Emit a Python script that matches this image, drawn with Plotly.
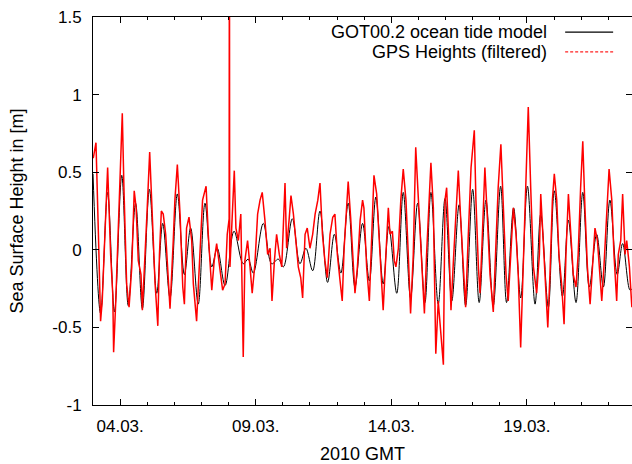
import pandas as pd
import plotly.graph_objects as go

# ---- data (day of March 2010, fractional; height in m) ----
model_day = [3.00, 3.28, 3.54, 3.79, 4.06, 4.30, 4.57, 4.82, 5.08, 5.35, 5.57, 5.84, 6.11, 6.37,
             6.60, 6.88, 7.13, 7.38, 7.58, 7.87, 8.20, 8.54, 8.72, 8.91, 9.28, 9.59, 9.83, 10.02,
             10.35, 10.63, 10.85, 11.10, 11.37, 11.65, 11.90, 12.14, 12.41, 12.66, 12.94, 13.19,
             13.43, 13.70, 13.91, 14.20, 14.44, 14.71, 14.97, 15.24, 15.46, 15.73, 15.98, 16.23,
             16.50, 16.74, 17.00, 17.24, 17.49, 17.76, 18.03, 18.25, 18.51, 18.77, 19.02, 19.30,
             19.51, 19.79, 20.01, 20.31, 20.53, 20.81, 21.06, 21.30, 21.57, 21.82, 22.06, 22.33,
             22.53, 22.80, 22.88]
model_h = [0.49, -0.41, 0.37, -0.40, 0.48, -0.36, 0.30, -0.38, 0.39, -0.28, 0.17, -0.31, 0.36, -0.16,
           0.14, -0.35, 0.30, -0.11, 0.01, -0.23, 0.12, -0.09, -0.06, -0.15, 0.17, -0.09, -0.06, -0.11,
           0.20, -0.09, 0.01, -0.135, 0.25, -0.21, 0.10, -0.15, 0.30, -0.24, 0.17, -0.20,
           0.34, -0.22, 0.15, -0.28, 0.37, -0.31, 0.30, -0.34, 0.37, -0.35, 0.33, -0.33,
           0.29, -0.36, 0.39, -0.34, 0.32, -0.36, 0.41, -0.34, 0.27, -0.31, 0.41, -0.35,
           0.23, -0.37, 0.38, -0.30, 0.19, -0.34, 0.37, -0.24, 0.10, -0.24, 0.32, -0.16,
           0.04, -0.26, -0.25]

gps_day = [3.01, 3.11, 3.20, 3.28, 3.34, 3.44, 3.54, 3.59, 3.65, 3.73, 3.76, 3.84, 3.93, 4.00,
           4.08, 4.14, 4.24, 4.33, 4.43, 4.52, 4.59, 4.67, 4.77, 4.82, 4.92, 5.00, 5.09, 5.16,
           5.29, 5.39, 5.45, 5.52, 5.59, 5.68, 5.78, 5.84, 5.96, 6.02, 6.11, 6.21, 6.31, 6.37,
           6.45, 6.54, 6.64, 6.70, 6.82, 6.92, 7.04, 7.17, 7.25, 7.38, 7.47, 7.56, 7.66, 7.78,
           7.87, 7.95, 8.02, 8.03, 8.04, 8.05, 8.15, 8.21, 8.27, 8.36, 8.45, 8.48, 8.54, 8.60,
           8.70, 8.79, 8.87, 8.97, 9.07, 9.16, 9.24, 9.34, 9.44, 9.53, 9.60, 9.69, 9.77, 9.87,
           9.96, 10.08, 10.14, 10.23, 10.30, 10.39, 10.49, 10.57, 10.66, 10.73, 10.82, 10.90,
           11.00, 11.10, 11.19, 11.29, 11.37, 11.46, 11.55, 11.64, 11.74, 11.84, 11.92, 12.01,
           12.11, 12.19, 12.26, 12.35, 12.41, 12.50, 12.58, 12.66, 12.75, 12.85, 12.94, 12.99,
           13.09, 13.19, 13.28, 13.36, 13.46, 13.58, 13.70, 13.80, 13.89, 13.95, 14.04, 14.11,
           14.17, 14.26, 14.35, 14.44, 14.54, 14.63, 14.71, 14.81, 14.90, 15.00, 15.12, 15.22,
           15.30, 15.40, 15.46, 15.55, 15.64, 15.73, 15.82, 15.92, 15.98, 16.04, 16.12, 16.20,
           16.29, 16.41, 16.47, 16.56, 16.65, 16.74, 16.84, 16.94, 17.06, 17.12, 17.21, 17.27,
           17.35, 17.45, 17.54, 17.64, 17.76, 17.86, 17.94, 18.04, 18.13, 18.23, 18.31, 18.40,
           18.50, 18.60, 18.68, 18.77, 18.87, 18.97, 19.05, 19.14, 19.24, 19.36, 19.46, 19.51,
           19.58, 19.67, 19.77, 19.85, 19.94, 20.01, 20.10, 20.18, 20.28, 20.37, 20.44, 20.53,
           20.61, 20.71, 20.81, 20.89, 20.98, 21.06, 21.14, 21.23, 21.33, 21.43, 21.51, 21.60,
           21.69, 21.76, 21.84, 21.94, 22.03, 22.13, 22.21, 22.31, 22.37, 22.46, 22.53, 22.62,
           22.68, 22.78, 22.87]
gps_h = [0.59, 0.69, 0.10, -0.46, -0.33, 0.10, 0.53, 0.27, -0.03, -0.29, -0.66, -0.33, 0.10, 0.49,
         0.88, 0.40, -0.22, -0.37, -0.11, 0.38, 0.27, -0.07, -0.16, -0.39, -0.07, 0.27, 0.63, 0.32,
         -0.22, -0.49, -0.03, 0.25, 0.23, 0.10, -0.26, -0.38, 0.06, 0.32, 0.55, 0.23, -0.24, -0.35,
         0.14, 0.21, 0.06, -0.22, -0.46, -0.11, 0.32, 0.41, 0.10, -0.26, -0.07, 0.04, -0.09, -0.26,
         -0.22, 0.10, 0.20, 2.50, 0.00, -0.11, 0.23, 0.51, 0.14, 0.06, 0.23, -0.16, -0.69, -0.07,
         0.06, -0.11, -0.28, -0.09, 0.23, 0.32, 0.37, 0.19, -0.03, 0.01, -0.33, -0.07, 0.10, -0.03,
         -0.11, 0.43, 0.01, 0.19, 0.35, 0.23, 0.06, -0.11, -0.18, -0.31, 0.10, 0.14,
         0.01, 0.10, 0.23, 0.32, 0.43, 0.10, -0.07, -0.18, 0.10, 0.21, 0.23, -0.03,
         -0.20, -0.33, 0.01, 0.32, 0.44, 0.21, -0.03, -0.28, -0.11, 0.19, 0.32, 0.27,
         -0.11, -0.33, 0.10, 0.48, 0.36, -0.03, -0.39, -0.03, 0.27, 0.10, 0.12, -0.07,
         -0.11, 0.01, 0.32, 0.52, 0.32, -0.05, -0.41, -0.03, 0.66, 0.32, -0.07, -0.41,
         -0.03, 0.40, 0.56, 0.27, -0.67, -0.33, -0.50, -0.74, 0.32, 0.40, 0.06, -0.39,
         -0.07, 0.36, 0.51, 0.19, -0.11, -0.37, 0.10, 0.53, 0.77, 0.32, -0.11, -0.28,
         0.06, 0.53, 0.21, -0.16, -0.40, 0.01, 0.40, 0.68, 0.32, -0.16, -0.33, -0.03,
         0.27, 0.10, -0.16, -0.63, -0.11, 0.53, 0.92, 0.40, -0.11, -0.28, -0.03, 0.36,
         0.14, -0.11, -0.50, -0.16, 0.32, 0.49, 0.32, -0.03, -0.22, -0.48, -0.03, 0.36,
         0.10, -0.16, -0.24, -0.03, 0.40, 0.70, 0.27, -0.11, -0.35, -0.03, 0.14, 0.06,
         -0.18, -0.33, -0.11, 0.21, 0.52, 0.32, -0.03, -0.33, -0.03, 0.06, 0.36, -0.03,
         0.06, -0.11, -0.37]

y_tickvals = [-1, -0.5, 0, 0.5, 1, 1.5]
y_ticktext = ["-1", "-0.5", "0", "0.5", "1", "1.5"]
series_names = ["GOT00.2 ocean tide model", "GPS Heights (filtered)"]

base = pd.Timestamp("2010-03-01")
def to_time(days):
    return [base + pd.to_timedelta(d - 1, unit="D") for d in days]

FONT = "Liberation Sans, Arial, Helvetica, sans-serif"

fig = go.Figure()
fig.add_trace(go.Scatter(x=to_time(model_day), y=model_h, mode="lines",
                         line=dict(color="black", width=1, shape="spline", smoothing=1.0),
                         showlegend=False, name=series_names[0]))
fig.add_trace(go.Scatter(x=to_time(gps_day), y=gps_h, mode="lines",
                         line=dict(color="#ff0000", width=1.5),
                         showlegend=False, name=series_names[1]))

# gnuplot-style key (text right-aligned, sample to the right)
key_rows = [(0.961, series_names[0], "black", "solid"),
            (0.910, series_names[1], "#ff2020", "3px,2px")]
for yp, txt, col, dash in key_rows:
    fig.add_annotation(x=0.846, y=yp, xref="paper", yref="paper", text=txt, showarrow=False,
                       xanchor="right", yanchor="middle", font=dict(family=FONT, size=18, color="black"))
    fig.add_shape(type="line", xref="paper", yref="paper", x0=0.876, x1=0.965, y0=yp, y1=yp,
                  line=dict(color=col, width=1.2, dash=dash))

fig.update_layout(
    width=632, height=464,
    margin=dict(l=93, r=0, t=17, b=59),
    paper_bgcolor="white", plot_bgcolor="white",
    font=dict(family=FONT, size=17, color="black"),
    showlegend=False,
)
fig.update_xaxes(
    automargin=False,
    range=[to_time([3.0])[0], to_time([22.875])[0]],
    tick0="2010-03-04", dtick=5 * 86400000, tickformat="%d.%m.",
    ticks="inside", ticklen=6, tickcolor="black", tickwidth=1,
    minor=dict(ticks="inside", ticklen=3, dtick=86400000, tick0="2010-03-04", tickcolor="black"),
    showline=True, linecolor="black", linewidth=1, mirror="allticks",
    showgrid=False, zeroline=False, ticklabelstandoff=6,
    title=dict(text="2010 GMT", font=dict(size=18), standoff=12),
    tickfont=dict(size=17),
)
fig.update_yaxes(
    automargin=False,
    range=[-1, 1.5], tickvals=y_tickvals, ticktext=y_ticktext,
    ticks="inside", ticklen=6, tickcolor="black", tickwidth=1,
    showline=True, linecolor="black", linewidth=1, mirror="allticks",
    showgrid=False, zeroline=False, ticklabelstandoff=7,
    title=dict(text="Sea Surface Height in [m]", font=dict(size=18), standoff=24),
    tickfont=dict(size=17),
)
fig.write_html("out.html", config={"displayModeBar": False},
               post_script="document.body.style.margin='0';document.body.style.padding='0';")
